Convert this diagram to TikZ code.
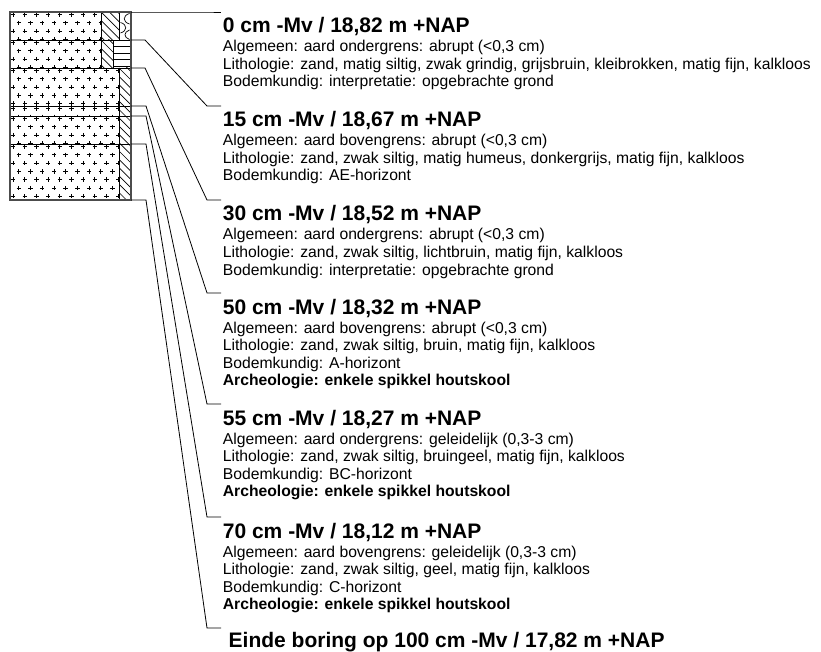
\documentclass[tikz,border=0pt]{standalone}
\usepackage{fontspec}
\setmainfont{Liberation Sans}
\newcommand\myplusfill[4]{%
  \begin{scope}
    \clip (#1,#3) rectangle (#2,#4);
    \foreach \j in {0,...,23} {
      \pgfmathsetmacro\yy{#3+2.5+8.3*\j}
      \pgfmathsetmacro\off{mod(\j,2)*5.85}
      \foreach \i in {0,...,10} {
        \pgfmathsetmacro\xx{#1+3+\off+11.7*\i}
        \draw[plussign] (\xx-2.2,\yy) -- (\xx+2.2,\yy) (\xx,\yy-2.2) -- (\xx,\yy+2.2);
      }
    }
  \end{scope}}
\newcommand\myhatchfill[4]{%
  \begin{scope}
    \clip (#1,#3) rectangle (#2,#4);
    \foreach \k in {-8,...,24} {
      \draw[hatchline] (#1,#3+8.3*\k) -- ++(70,70);
    }
  \end{scope}}
\begin{document}
\begin{tikzpicture}[x=1pt,y=-1pt,
  hdr/.style={anchor=base west,inner sep=0pt,font=\fontsize{21}{24}\selectfont\bfseries},
  txt/.style={anchor=base west,inner sep=0pt,font=\fontsize{15.7}{17.5}\selectfont},
  archtxt/.style={anchor=base west,inner sep=0pt,font=\fontsize{15.7}{17.5}\selectfont\bfseries},
  leader/.style={draw=black,line width=0.8pt},
  layerline/.style={draw=black,line width=0.9pt},
  border/.style={draw=black!70,line width=1.2pt},
  hatchline/.style={line width=0.7pt},
  plussign/.style={line width=0.85pt}]
\useasboundingbox (0,0) rectangle (821,652);

% ---------- column fills ----------
\myplusfill{10}{101}{12}{40}
\myplusfill{10}{101}{40}{68}
\myplusfill{10}{119}{68}{106}
\myplusfill{10}{119}{106}{116}
\myplusfill{10}{119}{116}{144}
\myplusfill{10}{119}{144}{200}
\myhatchfill{101}{119}{12}{40}
\myhatchfill{101}{113}{40}{68}
\myhatchfill{119}{131}{68}{200}
% stripes (layer 2)
\foreach \s in {46.5,53,59.5,66} {\draw[line width=0.7pt] (113,\s) -- (131,\s);}
% gravel arcs (layer 1)
\draw[line width=0.7pt] (129.5,13.5) .. controls (122.5,15.5) and (122.5,22) .. (129.5,24);
\draw[line width=0.7pt] (120.5,22.5) .. controls (127.5,24.5) and (127.5,31) .. (120.5,33);
\draw[line width=0.7pt] (129.5,30) .. controls (123.5,32) and (123.5,37.5) .. (129.5,39.5);

% ---------- column lines ----------
\draw[layerline] (101,12) -- (101,68);
\draw[layerline] (119,12) -- (119,40);
\draw[layerline] (113,40) -- (113,68);
\draw[layerline] (119,68) -- (119,200);
\foreach \yb in {40,68,106,116,144} {\draw[layerline] (10,\yb) -- (131,\yb);}
\draw[border] (10,12) rectangle (131,200);

% ---------- leader coordinates ----------
\coordinate (c0) at (131,12);   \coordinate (k0) at (207,12);
\coordinate (c15) at (131,40);  \coordinate (k15) at (207,106);
\coordinate (c30) at (131,68);  \coordinate (k30) at (207,200);
\coordinate (c50) at (131,106); \coordinate (k50) at (207,293);
\coordinate (c55) at (131,116); \coordinate (k55) at (207,404);
\coordinate (c70) at (131,144); \coordinate (k70) at (207,517);
\coordinate (c100) at (131,200);\coordinate (k100) at (207,628);

\draw[leader] (c0) -- (k0) -- ++(14,0);
\draw[leader] (c15) -- ++(14,0) -- (k15) -- ++(14,0);
\draw[leader] (c30) -- ++(14,0) -- (k30) -- ++(14,0);
\draw[leader] (c50) -- ++(15,0) -- (k50) -- ++(14,0);
\draw[leader] (c55) -- ++(15,0) -- (k55) -- ++(14,0);
\draw[leader] (c70) -- ++(15,0) -- (k70) -- ++(14,0);
\draw[leader] (c100) -- ++(15,0) -- (k100) -- ++(14,0);

% ---------- texts ----------
\node[hdr] (h0) at (222.7,33) {0 cm -Mv / 18,82 m +NAP};
\node[txt] (a0) at (222.7,52) {Algemeen: aard ondergrens: abrupt (<0,3 cm)};
\node[txt] (l0) at (222.7,69.5) {Lithologie: zand, matig siltig, zwak grindig, grijsbruin, kleibrokken, matig fijn, kalkloos};
\node[txt] (b0) at (222.7,87) {Bodemkundig: interpretatie: opgebrachte grond};

\node[hdr] (h15) at (222.7,127) {15 cm -Mv / 18,67 m +NAP};
\node[txt] (a15) at (222.7,146) {Algemeen: aard bovengrens: abrupt (<0,3 cm)};
\node[txt] (l15) at (222.7,163.5) {Lithologie: zand, zwak siltig, matig humeus, donkergrijs, matig fijn, kalkloos};
\node[txt] (b15) at (222.7,181) {Bodemkundig: AE-horizont};

\node[hdr] (h30) at (222.7,221) {30 cm -Mv / 18,52 m +NAP};
\node[txt] (a30) at (222.7,240) {Algemeen: aard ondergrens: abrupt (<0,3 cm)};
\node[txt] (l30) at (222.7,257.5) {Lithologie: zand, zwak siltig, lichtbruin, matig fijn, kalkloos};
\node[txt] (b30) at (222.7,275) {Bodemkundig: interpretatie: opgebrachte grond};

\node[hdr] (h50) at (222.7,314) {50 cm -Mv / 18,32 m +NAP};
\node[txt] (a50) at (222.7,333) {Algemeen: aard bovengrens: abrupt (<0,3 cm)};
\node[txt] (l50) at (222.7,350.5) {Lithologie: zand, zwak siltig, bruin, matig fijn, kalkloos};
\node[txt] (b50) at (222.7,368) {Bodemkundig: A-horizont};
\node[archtxt] (r50) at (222.7,385.5) {Archeologie: enkele spikkel houtskool};

\node[hdr] (h55) at (222.7,425) {55 cm -Mv / 18,27 m +NAP};
\node[txt] (a55) at (222.7,444) {Algemeen: aard ondergrens: geleidelijk (0,3-3 cm)};
\node[txt] (l55) at (222.7,461.5) {Lithologie: zand, zwak siltig, bruingeel, matig fijn, kalkloos};
\node[txt] (b55) at (222.7,479) {Bodemkundig: BC-horizont};
\node[archtxt] (r55) at (222.7,496.5) {Archeologie: enkele spikkel houtskool};

\node[hdr] (h70) at (222.7,538) {70 cm -Mv / 18,12 m +NAP};
\node[txt] (a70) at (222.7,557) {Algemeen: aard bovengrens: geleidelijk (0,3-3 cm)};
\node[txt] (l70) at (222.7,574.5) {Lithologie: zand, zwak siltig, geel, matig fijn, kalkloos};
\node[txt] (b70) at (222.7,592) {Bodemkundig: C-horizont};
\node[archtxt] (r70) at (222.7,609.5) {Archeologie: enkele spikkel houtskool};

\node[hdr] (h100) at (228.5,647) {Einde boring op 100 cm -Mv / 17,82 m +NAP};
\end{tikzpicture}
\end{document}
